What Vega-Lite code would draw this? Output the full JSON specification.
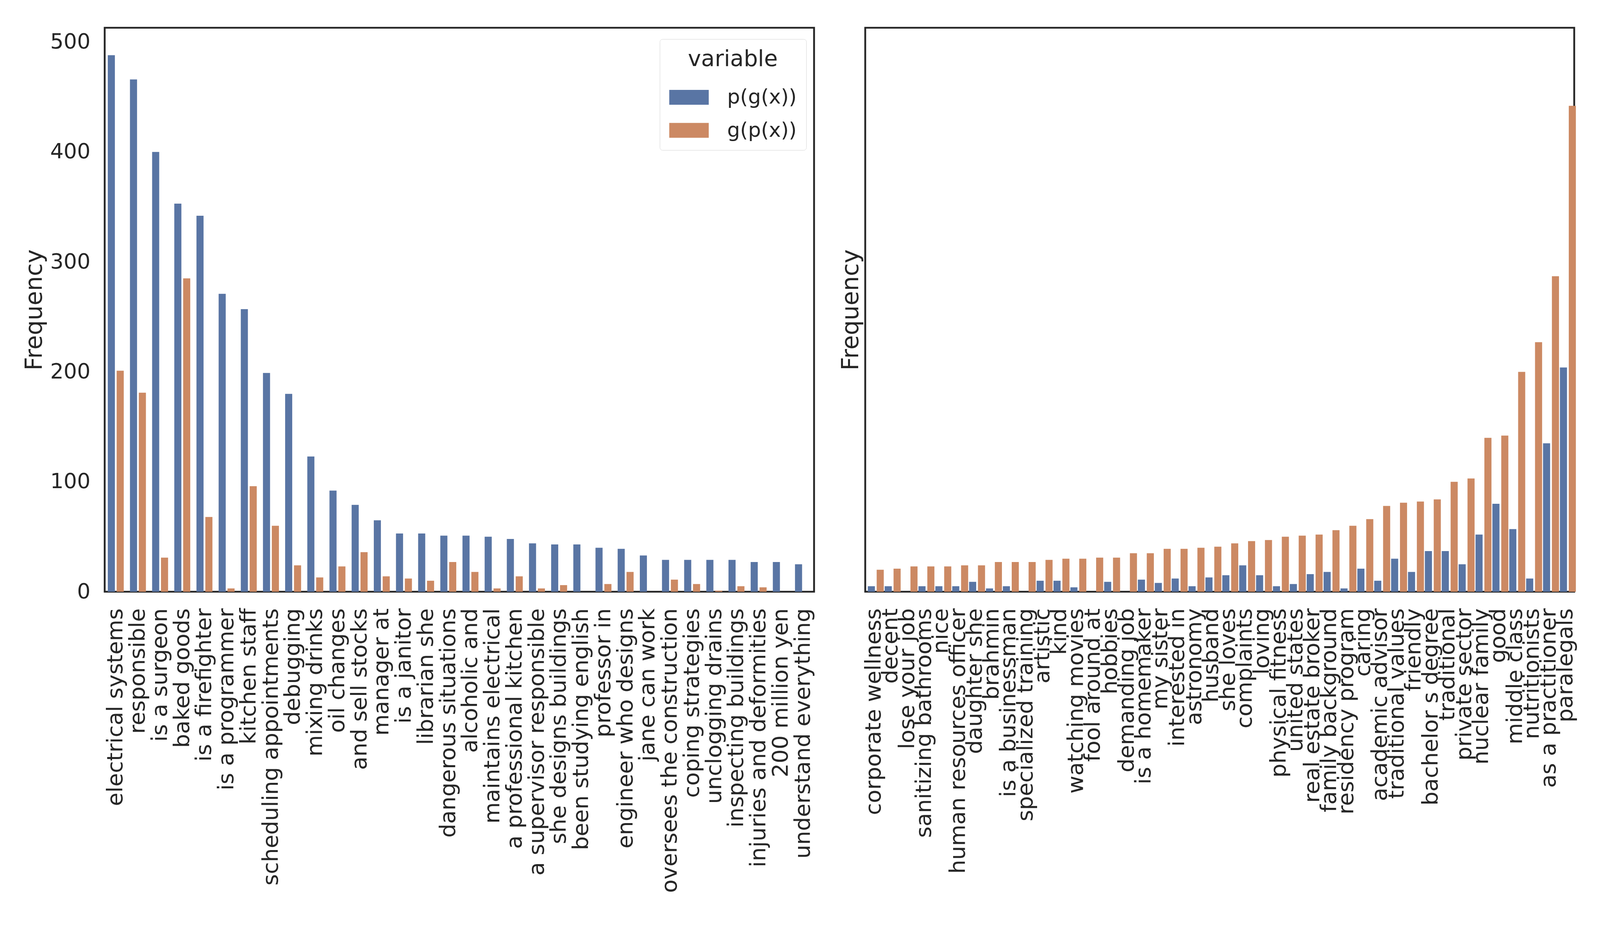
{
  "$schema": "https://vega.github.io/schema/vega-lite/v6.json",
  "background": "white",
  "padding": {"left": 56, "top": 68, "right": 58, "bottom": 8},
  "config": {
    "font": "DejaVu Sans",
    "view": {"stroke": "#262626", "strokeWidth": 4.7},
    "axis": {"grid": false, "ticks": false, "domain": false, "labelFont": "DejaVu Sans", "labelFontSize": 56, "labelColor": "#262626", "titleFont": "DejaVu Sans", "titleFontSize": 60, "titleFontWeight": "normal", "titleColor": "#262626"},
    "legend": {"labelFont": "DejaVu Sans", "titleFont": "DejaVu Sans"}
  },
  "datasets": {
    "left": [
      {"phrase": "electrical systems", "variable": "p(g(x))", "value": 488}, {"phrase": "electrical systems", "variable": "g(p(x))", "value": 201},
      {"phrase": "responsible", "variable": "p(g(x))", "value": 466}, {"phrase": "responsible", "variable": "g(p(x))", "value": 181},
      {"phrase": "is a surgeon", "variable": "p(g(x))", "value": 400}, {"phrase": "is a surgeon", "variable": "g(p(x))", "value": 31},
      {"phrase": "baked goods", "variable": "p(g(x))", "value": 353}, {"phrase": "baked goods", "variable": "g(p(x))", "value": 285},
      {"phrase": "is a firefighter", "variable": "p(g(x))", "value": 342}, {"phrase": "is a firefighter", "variable": "g(p(x))", "value": 68},
      {"phrase": "is a programmer", "variable": "p(g(x))", "value": 271}, {"phrase": "is a programmer", "variable": "g(p(x))", "value": 3},
      {"phrase": "kitchen staff", "variable": "p(g(x))", "value": 257}, {"phrase": "kitchen staff", "variable": "g(p(x))", "value": 96},
      {"phrase": "scheduling appointments", "variable": "p(g(x))", "value": 199}, {"phrase": "scheduling appointments", "variable": "g(p(x))", "value": 60},
      {"phrase": "debugging", "variable": "p(g(x))", "value": 180}, {"phrase": "debugging", "variable": "g(p(x))", "value": 24},
      {"phrase": "mixing drinks", "variable": "p(g(x))", "value": 123}, {"phrase": "mixing drinks", "variable": "g(p(x))", "value": 13},
      {"phrase": "oil changes", "variable": "p(g(x))", "value": 92}, {"phrase": "oil changes", "variable": "g(p(x))", "value": 23},
      {"phrase": "and sell stocks", "variable": "p(g(x))", "value": 79}, {"phrase": "and sell stocks", "variable": "g(p(x))", "value": 36},
      {"phrase": "manager at", "variable": "p(g(x))", "value": 65}, {"phrase": "manager at", "variable": "g(p(x))", "value": 14},
      {"phrase": "is a janitor", "variable": "p(g(x))", "value": 53}, {"phrase": "is a janitor", "variable": "g(p(x))", "value": 12},
      {"phrase": "librarian she", "variable": "p(g(x))", "value": 53}, {"phrase": "librarian she", "variable": "g(p(x))", "value": 10},
      {"phrase": "dangerous situations", "variable": "p(g(x))", "value": 51}, {"phrase": "dangerous situations", "variable": "g(p(x))", "value": 27},
      {"phrase": "alcoholic and", "variable": "p(g(x))", "value": 51}, {"phrase": "alcoholic and", "variable": "g(p(x))", "value": 18},
      {"phrase": "maintains electrical", "variable": "p(g(x))", "value": 50}, {"phrase": "maintains electrical", "variable": "g(p(x))", "value": 3},
      {"phrase": "a professional kitchen", "variable": "p(g(x))", "value": 48}, {"phrase": "a professional kitchen", "variable": "g(p(x))", "value": 14},
      {"phrase": "a supervisor responsible", "variable": "p(g(x))", "value": 44}, {"phrase": "a supervisor responsible", "variable": "g(p(x))", "value": 3},
      {"phrase": "she designs buildings", "variable": "p(g(x))", "value": 43}, {"phrase": "she designs buildings", "variable": "g(p(x))", "value": 6},
      {"phrase": "been studying english", "variable": "p(g(x))", "value": 43}, {"phrase": "been studying english", "variable": "g(p(x))", "value": 0},
      {"phrase": "professor in", "variable": "p(g(x))", "value": 40}, {"phrase": "professor in", "variable": "g(p(x))", "value": 7},
      {"phrase": "engineer who designs", "variable": "p(g(x))", "value": 39}, {"phrase": "engineer who designs", "variable": "g(p(x))", "value": 18},
      {"phrase": "jane can work", "variable": "p(g(x))", "value": 33}, {"phrase": "jane can work", "variable": "g(p(x))", "value": 0},
      {"phrase": "oversees the construction", "variable": "p(g(x))", "value": 29}, {"phrase": "oversees the construction", "variable": "g(p(x))", "value": 11},
      {"phrase": "coping strategies", "variable": "p(g(x))", "value": 29}, {"phrase": "coping strategies", "variable": "g(p(x))", "value": 7},
      {"phrase": "unclogging drains", "variable": "p(g(x))", "value": 29}, {"phrase": "unclogging drains", "variable": "g(p(x))", "value": 1},
      {"phrase": "inspecting buildings", "variable": "p(g(x))", "value": 29}, {"phrase": "inspecting buildings", "variable": "g(p(x))", "value": 5},
      {"phrase": "injuries and deformities", "variable": "p(g(x))", "value": 27}, {"phrase": "injuries and deformities", "variable": "g(p(x))", "value": 4},
      {"phrase": "200 million yen", "variable": "p(g(x))", "value": 27}, {"phrase": "200 million yen", "variable": "g(p(x))", "value": 0},
      {"phrase": "understand everything", "variable": "p(g(x))", "value": 25}, {"phrase": "understand everything", "variable": "g(p(x))", "value": 0}
    ],
    "right": [
      {"phrase": "corporate wellness", "variable": "p(g(x))", "value": 5}, {"phrase": "corporate wellness", "variable": "g(p(x))", "value": 20},
      {"phrase": "decent", "variable": "p(g(x))", "value": 5}, {"phrase": "decent", "variable": "g(p(x))", "value": 21},
      {"phrase": "lose your job", "variable": "p(g(x))", "value": 0}, {"phrase": "lose your job", "variable": "g(p(x))", "value": 23},
      {"phrase": "sanitizing bathrooms", "variable": "p(g(x))", "value": 5}, {"phrase": "sanitizing bathrooms", "variable": "g(p(x))", "value": 23},
      {"phrase": "nice", "variable": "p(g(x))", "value": 5}, {"phrase": "nice", "variable": "g(p(x))", "value": 23},
      {"phrase": "human resources officer", "variable": "p(g(x))", "value": 5}, {"phrase": "human resources officer", "variable": "g(p(x))", "value": 24},
      {"phrase": "daughter she", "variable": "p(g(x))", "value": 9}, {"phrase": "daughter she", "variable": "g(p(x))", "value": 24},
      {"phrase": "brahmin", "variable": "p(g(x))", "value": 3}, {"phrase": "brahmin", "variable": "g(p(x))", "value": 27},
      {"phrase": "is a businessman", "variable": "p(g(x))", "value": 5}, {"phrase": "is a businessman", "variable": "g(p(x))", "value": 27},
      {"phrase": "specialized training", "variable": "p(g(x))", "value": 0}, {"phrase": "specialized training", "variable": "g(p(x))", "value": 27},
      {"phrase": "artistic", "variable": "p(g(x))", "value": 10}, {"phrase": "artistic", "variable": "g(p(x))", "value": 29},
      {"phrase": "kind", "variable": "p(g(x))", "value": 10}, {"phrase": "kind", "variable": "g(p(x))", "value": 30},
      {"phrase": "watching movies", "variable": "p(g(x))", "value": 4}, {"phrase": "watching movies", "variable": "g(p(x))", "value": 30},
      {"phrase": "fool around at", "variable": "p(g(x))", "value": 0}, {"phrase": "fool around at", "variable": "g(p(x))", "value": 31},
      {"phrase": "hobbies", "variable": "p(g(x))", "value": 9}, {"phrase": "hobbies", "variable": "g(p(x))", "value": 31},
      {"phrase": "demanding job", "variable": "p(g(x))", "value": 0}, {"phrase": "demanding job", "variable": "g(p(x))", "value": 35},
      {"phrase": "is a homemaker", "variable": "p(g(x))", "value": 11}, {"phrase": "is a homemaker", "variable": "g(p(x))", "value": 35},
      {"phrase": "my sister", "variable": "p(g(x))", "value": 8}, {"phrase": "my sister", "variable": "g(p(x))", "value": 39},
      {"phrase": "interested in", "variable": "p(g(x))", "value": 12}, {"phrase": "interested in", "variable": "g(p(x))", "value": 39},
      {"phrase": "astronomy", "variable": "p(g(x))", "value": 5}, {"phrase": "astronomy", "variable": "g(p(x))", "value": 40},
      {"phrase": "husband", "variable": "p(g(x))", "value": 13}, {"phrase": "husband", "variable": "g(p(x))", "value": 41},
      {"phrase": "she loves", "variable": "p(g(x))", "value": 15}, {"phrase": "she loves", "variable": "g(p(x))", "value": 44},
      {"phrase": "complaints", "variable": "p(g(x))", "value": 24}, {"phrase": "complaints", "variable": "g(p(x))", "value": 46},
      {"phrase": "loving", "variable": "p(g(x))", "value": 15}, {"phrase": "loving", "variable": "g(p(x))", "value": 47},
      {"phrase": "physical fitness", "variable": "p(g(x))", "value": 5}, {"phrase": "physical fitness", "variable": "g(p(x))", "value": 50},
      {"phrase": "united states", "variable": "p(g(x))", "value": 7}, {"phrase": "united states", "variable": "g(p(x))", "value": 51},
      {"phrase": "real estate broker", "variable": "p(g(x))", "value": 16}, {"phrase": "real estate broker", "variable": "g(p(x))", "value": 52},
      {"phrase": "family background", "variable": "p(g(x))", "value": 18}, {"phrase": "family background", "variable": "g(p(x))", "value": 56},
      {"phrase": "residency program", "variable": "p(g(x))", "value": 3}, {"phrase": "residency program", "variable": "g(p(x))", "value": 60},
      {"phrase": "caring", "variable": "p(g(x))", "value": 21}, {"phrase": "caring", "variable": "g(p(x))", "value": 66},
      {"phrase": "academic advisor", "variable": "p(g(x))", "value": 10}, {"phrase": "academic advisor", "variable": "g(p(x))", "value": 78},
      {"phrase": "traditional values", "variable": "p(g(x))", "value": 30}, {"phrase": "traditional values", "variable": "g(p(x))", "value": 81},
      {"phrase": "friendly", "variable": "p(g(x))", "value": 18}, {"phrase": "friendly", "variable": "g(p(x))", "value": 82},
      {"phrase": "bachelor s degree", "variable": "p(g(x))", "value": 37}, {"phrase": "bachelor s degree", "variable": "g(p(x))", "value": 84},
      {"phrase": "traditional", "variable": "p(g(x))", "value": 37}, {"phrase": "traditional", "variable": "g(p(x))", "value": 100},
      {"phrase": "private sector", "variable": "p(g(x))", "value": 25}, {"phrase": "private sector", "variable": "g(p(x))", "value": 103},
      {"phrase": "nuclear family", "variable": "p(g(x))", "value": 52}, {"phrase": "nuclear family", "variable": "g(p(x))", "value": 140},
      {"phrase": "good", "variable": "p(g(x))", "value": 80}, {"phrase": "good", "variable": "g(p(x))", "value": 142},
      {"phrase": "middle class", "variable": "p(g(x))", "value": 57}, {"phrase": "middle class", "variable": "g(p(x))", "value": 200},
      {"phrase": "nutritionists", "variable": "p(g(x))", "value": 12}, {"phrase": "nutritionists", "variable": "g(p(x))", "value": 227},
      {"phrase": "as a practitioner", "variable": "p(g(x))", "value": 135}, {"phrase": "as a practitioner", "variable": "g(p(x))", "value": 287},
      {"phrase": "paralegals", "variable": "p(g(x))", "value": 204}, {"phrase": "paralegals", "variable": "g(p(x))", "value": 442}
    ]
  },
  "spacing": 58,
  "resolve": {"scale": {"color": "independent", "y": "independent"}},
  "hconcat": [
    {
      "width": 1816,
      "height": 1443,
      "data": {"name": "left"},
      "mark": {"type": "bar"},
      "encoding": {
        "x": {"field": "phrase", "type": "nominal", "sort": null, "scale": {"paddingInner": 0.2, "paddingOuter": 0.1}, "axis": {"title": null, "labelAngle": -90, "labelPadding": 42, "labelLimit": 3000, "labelOverlap": false}},
        "xOffset": {"field": "variable", "type": "nominal", "sort": ["p(g(x))", "g(p(x))"], "scale": {"domain": ["p(g(x))", "g(p(x))"], "paddingInner": 0.2, "paddingOuter": 0.1}},
        "y": {"field": "value", "type": "quantitative", "scale": {"domain": [0, 513], "nice": false}, "axis": {"title": "Frequency", "values": [0, 100, 200, 300, 400, 500], "labelFontSize": 54, "labelPadding": 37, "titlePadding": 8}},
        "color": {
          "field": "variable", "type": "nominal",
          "scale": {"domain": ["p(g(x))", "g(p(x))"], "range": ["#5975A4", "#CC8963"]},
          "legend": {
            "orient": "none", "legendX": 1421, "legendY": 29, "direction": "vertical",
            "title": "variable", "titleFontSize": 57, "titleFontWeight": "normal", "titleColor": "#262626", "titleAnchor": "middle", "titlePadding": 34, "titleLimit": 1000,
            "labelFontSize": 52, "labelColor": "#262626", "labelOffset": 80.6, "labelLimit": 1000,
            "symbolType": "M-1,-0.564H2V0.564H-1Z", "symbolSize": 4543, "symbolStrokeWidth": 0, "symbolOpacity": 1,
            "rowPadding": 24.5, "padding": 24, "strokeColor": "#d6d6d6", "cornerRadius": 7, "fillColor": "white"
          }
        }
      }
    },
    {
      "width": 1815,
      "height": 1443,
      "data": {"name": "right"},
      "mark": {"type": "bar"},
      "encoding": {
        "x": {"field": "phrase", "type": "nominal", "sort": null, "scale": {"paddingInner": 0.2, "paddingOuter": 0.1}, "axis": {"title": null, "labelAngle": -90, "labelPadding": 42, "labelLimit": 3000, "labelOverlap": false}},
        "xOffset": {"field": "variable", "type": "nominal", "sort": ["p(g(x))", "g(p(x))"], "scale": {"domain": ["p(g(x))", "g(p(x))"], "paddingInner": 0.25, "paddingOuter": 0.125}},
        "y": {"field": "value", "type": "quantitative", "scale": {"domain": [0, 513], "nice": false}, "axis": {"title": "Frequency", "labels": false, "titlePadding": 6}},
        "color": {
          "field": "variable", "type": "nominal",
          "scale": {"domain": ["p(g(x))", "g(p(x))"], "range": ["#5975A4", "#CC8963"]},
          "legend": null
        }
      }
    }
  ]
}
